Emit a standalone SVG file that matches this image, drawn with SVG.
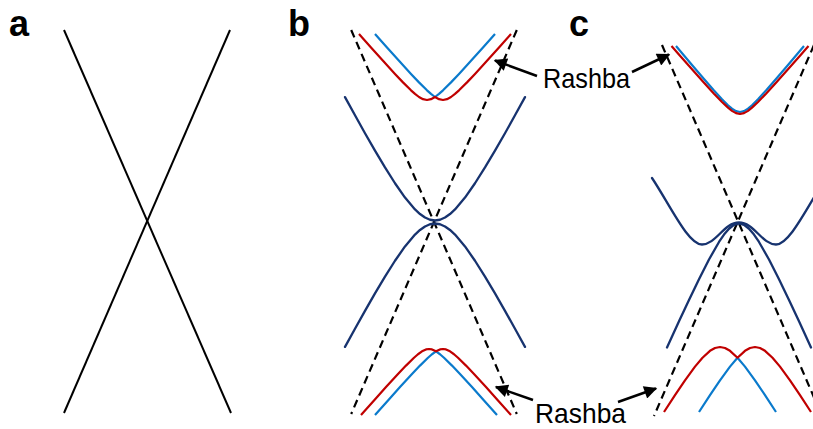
<svg xmlns="http://www.w3.org/2000/svg" width="813" height="429" viewBox="0 0 813 429">
<style>
.bg{fill:#ffffff}
.lbl{font-family:"Liberation Sans",Arial,sans-serif;font-weight:bold;font-size:36px;fill:#000}
.rb{font-family:"Liberation Sans",Arial,sans-serif;font-size:28px;fill:#000}
.k{fill:none;stroke:#000;stroke-width:2}
.d{fill:none;stroke:#000;stroke-width:2.2;stroke-dasharray:8 5}
.n{fill:none;stroke:#17336F;stroke-width:2.3;stroke-linejoin:round;stroke-linecap:round}
.r{fill:none;stroke:#C00000;stroke-width:2.2;stroke-linejoin:round}
.b{fill:none;stroke:#0A7ACC;stroke-width:2.2;stroke-linejoin:round}
.ar{fill:none;stroke:#000;stroke-width:2.5;marker-end:url(#ah)}
</style>
<defs>
<marker id="ah" viewBox="0 0 10 10" refX="9" refY="5" markerWidth="17" markerHeight="13" markerUnits="userSpaceOnUse" orient="auto">
<path d="M0,0 L10,5 L0,10 z" fill="#000"/>
</marker>
</defs>
<rect class="bg" x="0" y="0" width="813" height="429"/>

<g id="panel-a">
<text class="lbl" x="9" y="36">a</text>
<line class="k" x1="64" y1="30" x2="231" y2="413"/>
<line class="k" x1="230" y1="30" x2="64" y2="413"/>
</g>

<g id="panel-b">
<text class="lbl" x="288" y="36">b</text>
<line class="d" x1="351.2" y1="30" x2="516.8" y2="414"/>
<line class="d" x1="516.8" y1="30" x2="351.2" y2="414"/>
<polyline class="n" points="345,97.1 355,115.3 365,133.2 375,150.65 385,167.44 395,183.26 405,197.54 415,209.41 420,214.04 425,217.55 430,219.75 435,220.5 440,219.75 445,217.55 450,214.04 455,209.41 465,197.54 475,183.26 485,167.44 495,150.65 505,133.2 515,115.3 525,97.1"/>
<polyline class="n" points="345,346.9 355,328.7 365,310.85 375,293.35 385,276.56 395,260.74 405,246.46 415,234.59 420,229.96 425,226.45 430,224.25 435,223.5 440,224.25 445,226.45 450,229.96 455,234.59 465,246.46 475,260.74 485,276.56 495,293.35 505,310.85 515,328.7 525,346.9"/>
<polyline class="b" points="375,34.03 387,47.5 399,60.8 411,73.9 419,82.37 427,90.34 431,93.93 435,97 439,93.93 443,90.34 451,82.37 459,73.9 471,60.8 483,47.5 495,34.03"/>
<polyline class="r" points="359,34.03 371,47.5 383,60.8 395,73.9 403,82.37 411,90.34 415,93.93 419,97 423,99.19 427,100 431,99.19 435,97 439,99.19 443,100 447,99.19 451,97 455,93.93 459,90.34 467,82.37 475,73.9 487,60.8 499,47.5 511,34.03"/>
<polyline class="b" points="375,414.97 388,400.42 400,387.11 412,374.03 420,365.6 428,357.73 432,354.24 436,351.35 440,354.24 444,357.73 452,365.6 460,374.03 472,387.11 484,400.42 497,414.97"/>
<polyline class="r" points="361,414.97 374,400.42 386,387.11 398,374.03 406,365.6 414,357.73 418,354.24 422,351.35 426,349.46 429,349 432,349.46 436,351.35 440,349.46 443,349 446,349.46 450,351.35 454,354.24 458,357.73 466,365.6 474,374.03 486,387.11 498,400.42 511,414.97"/>
</g>

<g id="panel-c">
<text class="lbl" x="569" y="36">c</text>
<line class="d" x1="662" y1="45" x2="822" y2="416"/>
<line class="d" x1="814" y1="45" x2="654" y2="416"/>
<path class="n" d="M652,178 C670,205 688,244.5 702,244.5 C716,244.5 724,222.5 739,222.5 C754,222.5 762,244.5 776,244.5 C790,244.5 808,205 826,178"/>
<polyline class="n" points="667,347.5 679,321.3 689,299.9 699,279.15 709,259.5 719,241.97 724,234.6 729,228.73 734,224.86 739,223.5 744,224.86 749,228.73 754,234.6 759,241.97 769,259.5 779,279.15 789,299.9 799,321.3 811,347.5"/>
<polyline class="b" points="676,46 684,55.51 692,64.97 704,79.02 714,90.47 722,99.22 728,105.22 732,108.61 736,111.07 740,112 744,111.07 748,108.61 752,105.22 758,99.22 766,90.47 776,79.02 788,64.97 796,55.51 804,46"/>
<polyline class="r" points="671.5,46 680,55.69 692,69.29 704,82.73 714,93.67 722,102 728,107.67 732,110.86 736,113.14 740,114 744,113.14 748,110.86 752,107.67 758,102 766,93.67 776,82.73 788,69.29 800,55.69 808.5,46"/>
<polyline class="b" points="699,412 710,395.07 720,380.3 730,366.63 737.5,357.7 745,366.63 755,380.3 765,395.07 776,412"/>
<polyline class="r" points="664,412 675,395.07 685,380.3 695,366.63 702.5,357.7 710,350.83 715,347.99 720,347 725,347.99 730,350.83 737.5,357.7 745,350.83 750,347.99 755,347 760,347.99 765,350.83 772.5,357.7 780,366.63 790,380.3 800,395.07 811,412"/>
</g>

<g id="label-rashba-top">
<text class="rb" x="543" y="88" textLength="87" lengthAdjust="spacingAndGlyphs">Rashba</text>
</g>
<g id="label-rashba-bottom">
<text class="rb" x="535" y="423" textLength="91" lengthAdjust="spacingAndGlyphs">Rashba</text>
</g>

<g id="connectors">
<line class="ar" x1="537" y1="76" x2="495" y2="60.5"/>
<line class="ar" x1="632" y1="72" x2="669" y2="54.5"/>
<line class="ar" x1="533" y1="400" x2="496" y2="387"/>
<line class="ar" x1="618" y1="402" x2="656" y2="388.5"/>
</g>
</svg>
